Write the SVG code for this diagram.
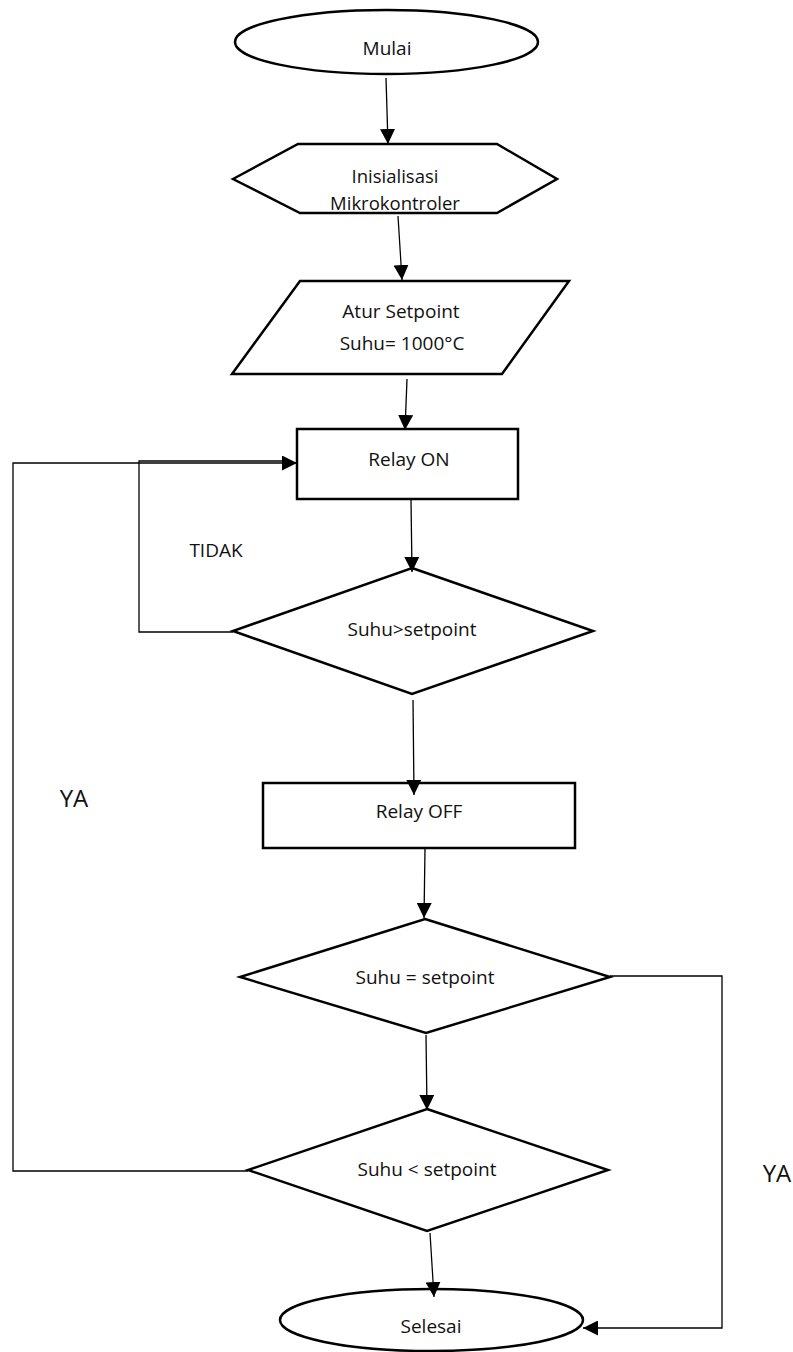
<svg xmlns="http://www.w3.org/2000/svg" width="793" height="1352" viewBox="0 0 793 1352">
<defs>
<marker id="ah" viewBox="0 0 15 15" markerWidth="15" markerHeight="15" refX="15" refY="7.5" orient="auto" markerUnits="userSpaceOnUse">
<path d="M0,0 L15,7.5 L0,15 z" fill="#000"/>
</marker>
</defs>
<style>
.shape{fill:#fff;stroke:#000;stroke-width:2.5}
.conn{fill:none;stroke:#000;stroke-width:1.3}
.arr{marker-end:url(#ah)}
text{font-family:"Open Sans","Liberation Sans",sans-serif;font-size:19px;fill:#111;text-anchor:middle}
.big{font-size:24px}
.sm{font-size:18.5px}
</style>
<rect width="793" height="1352" fill="#fff"/>
<g id="mulai">
<ellipse class="shape" cx="386.5" cy="42" rx="151.5" ry="32"/>
<text x="387" y="55">Mulai</text>
</g>
<g id="inisialisasi">
<polygon class="shape" points="233,179 298,144 497,144 557,179 497,213 300,213"/>
<text class="sm" x="395" y="183">Inisialisasi</text>
<text class="sm" x="395" y="210">Mikrokontroler</text>
</g>
<g id="setpoint">
<polygon class="shape" points="300,281 569,281 502,374 232,374"/>
<text x="401" y="318">Atur Setpoint</text>
<text x="402" y="350">Suhu= 1000°C</text>
</g>
<g id="relay-on">
<rect class="shape" x="297" y="429" width="221" height="70"/>
<text x="409" y="466">Relay ON</text>
</g>
<g id="cek-lebih">
<polygon class="shape" points="412,568 593,631 412,694 233,631"/>
<text x="412" y="636">Suhu&gt;setpoint</text>
</g>
<g id="relay-off">
<rect class="shape" x="263" y="783" width="312" height="65"/>
<text x="419" y="818">Relay OFF</text>
</g>
<g id="cek-sama">
<polygon class="shape" points="425,919 610,977 426,1033 240,977"/>
<text x="425" y="984">Suhu = setpoint</text>
</g>
<g id="cek-kurang">
<polygon class="shape" points="427,1109 608,1170 427,1231 248,1170"/>
<text x="427" y="1176">Suhu &lt; setpoint</text>
</g>
<g id="selesai">
<ellipse class="shape" cx="431.5" cy="1320" rx="151.5" ry="31"/>
<text x="431" y="1333">Selesai</text>
</g>
<g id="connectors">
<line class="conn arr" x1="386" y1="78" x2="388" y2="144"/>
<line class="conn arr" x1="398" y1="216" x2="402" y2="280"/>
<line class="conn arr" x1="407" y1="379" x2="405" y2="430"/>
<line class="conn arr" x1="411" y1="500" x2="412" y2="572"/>
<line class="conn arr" x1="413" y1="700" x2="414" y2="795"/>
<line class="conn arr" x1="425" y1="849" x2="424" y2="918"/>
<line class="conn arr" x1="426" y1="1035" x2="427" y2="1110"/>
<line class="conn arr" x1="430" y1="1233" x2="434" y2="1297"/>
<polyline class="conn arr" points="610,976 722,976 722,1328 583,1328"/>
<polyline class="conn" points="233,632 139,632 139,461 285,461"/>
<polyline class="conn arr" points="248,1171 13,1171 13,463 297,463"/>
</g>
<g id="labels">
<text x="216" y="557">TIDAK</text>
<text class="big" x="74" y="807">YA</text>
<text class="big" x="777" y="1182">YA</text>
</g>
</svg>
